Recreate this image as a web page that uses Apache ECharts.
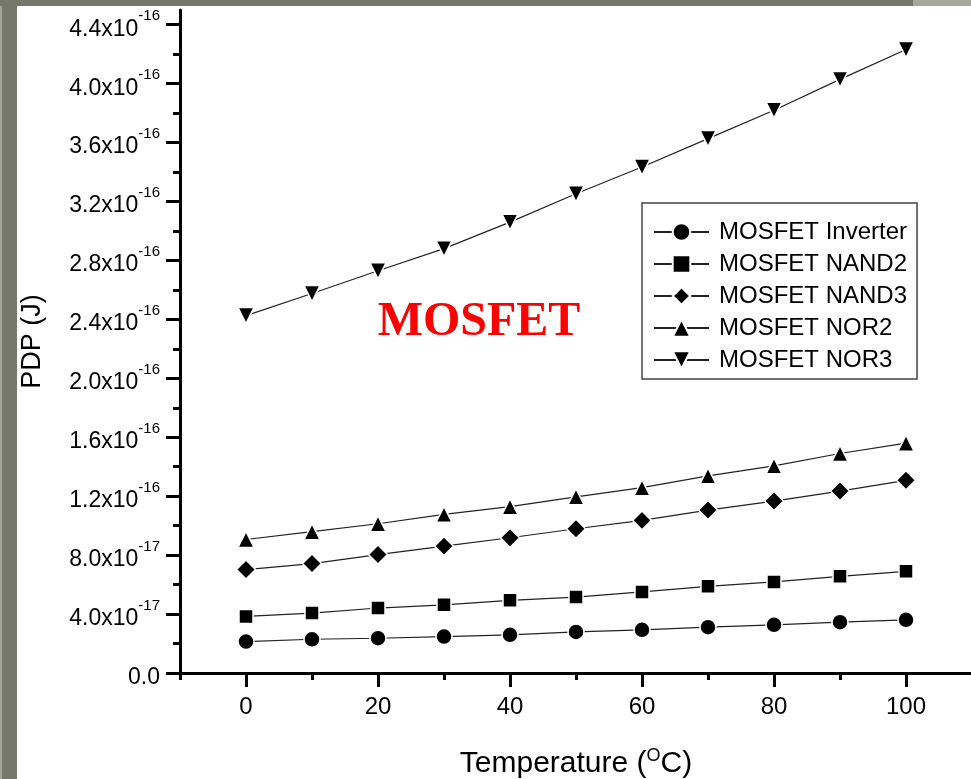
<!DOCTYPE html>
<html>
<head>
<meta charset="utf-8">
<script src="https://cdn.jsdelivr.net/npm/echarts@6/dist/echarts.min.js"></script>
<style>
  html, body { margin: 0; padding: 0; background: #fff; }
  #chart { width: 971px; height: 779px; }
</style>
</head>
<body>
<div id="chart"></div>
<script>
// temperature in deg C
const temps = [0, 10, 20, 30, 40, 50, 60, 70, 80, 90, 100];

// PDP values, in units of 1e-16 J
const pdpInverter = [0.213, 0.229, 0.236, 0.247, 0.259, 0.279, 0.293, 0.311, 0.327, 0.345, 0.361];
const pdpNand2 = [0.384, 0.407, 0.441, 0.463, 0.493, 0.515, 0.550, 0.588, 0.618, 0.656, 0.690];
const pdpNand3 = [0.702, 0.743, 0.804, 0.861, 0.918, 0.979, 1.036, 1.106, 1.167, 1.235, 1.308];
const pdpNor2 = [0.906, 0.959, 1.013, 1.077, 1.129, 1.196, 1.258, 1.338, 1.406, 1.490, 1.560];
const pdpNor3 = [2.426, 2.576, 2.730, 2.880, 3.060, 3.253, 3.434, 3.627, 3.820, 4.029, 4.232];

const seriesNames = ['MOSFET Inverter', 'MOSFET NAND2', 'MOSFET NAND3', 'MOSFET NOR2', 'MOSFET NOR3'];

// axis ticks
const yMajorTicks = [0, 0.4e-16, 0.8e-16, 1.2e-16, 1.6e-16, 2.0e-16, 2.4e-16, 2.8e-16, 3.2e-16, 3.6e-16, 4.0e-16, 4.4e-16];
const yMinorTicks = [0.2e-16, 0.6e-16, 1.0e-16, 1.4e-16, 1.8e-16, 2.2e-16, 2.6e-16, 3.0e-16, 3.4e-16, 3.8e-16, 4.2e-16];
const xMajorTicks = [0, 20, 40, 60, 80, 100];
const xMinorTicks = [-10, 10, 30, 50, 70, 90, 110];

const FONT = 'Liberation Sans, Arial, sans-serif';

const chart = echarts.init(document.getElementById('chart'));

function toPairs(vals) {
    return temps.map((t, i) => [t, vals[i] * 1e-16]);
}

function fmtPdp(v) {
    if (v === 0) return '{m|0.0}';
    const e = Math.floor(Math.log10(v) + 1e-9);
    const m = (v / Math.pow(10, e)).toFixed(1);
    return '{m|' + m + 'x10}{s|' + e + '}';
}

const markers = [
    { data: pdpInverter, symbol: 'circle', size: 16, rotate: 0 },
    { data: pdpNand2, symbol: 'rect', size: 14, rotate: 0 },
    { data: pdpNand3, symbol: 'diamond', size: 19, rotate: 0 },
    { data: pdpNor2, symbol: 'triangle', size: 16, rotate: 0 },
    { data: pdpNor3, symbol: 'triangle', size: 16, rotate: 180 }
];

const series = markers.map((m, i) => ({
    name: seriesNames[i],
    type: 'line',
    data: toPairs(m.data),
    symbol: m.symbol,
    symbolSize: m.size,
    symbolRotate: m.rotate,
    showAllSymbol: true,
    lineStyle: { color: '#222', width: 1.2 },
    itemStyle: { color: '#000', borderColor: '#fff', borderWidth: 1.5 },
    z: 3
}));

const axisLineStyle = { color: '#000', width: 3 };

const option = {
    animation: false,
    backgroundColor: '#fff',
    grid: { left: 180, right: -1, top: 10, bottom: 106, containLabel: false, outerBoundsMode: 'none' },
    xAxis: [
        {
            type: 'value',
            min: -10,
            max: 110,
            position: 'bottom',
            axisLine: { show: true, onZero: false, lineStyle: axisLineStyle },
            axisTick: { show: true, customValues: xMajorTicks, length: 14, lineStyle: { color: '#000', width: 3 } },
            axisLabel: {
                customValues: xMajorTicks,
                margin: 22,
                fontFamily: FONT,
                fontSize: 24,
                color: '#000'
            },
            splitLine: { show: false },
            name: '{t|Temperature (}{s|O}{t|C)}',
            nameLocation: 'middle',
            nameGap: 74,
            nameTextStyle: {
                rich: {
                    t: { fontFamily: FONT, fontSize: 30, color: '#000', lineHeight: 34 },
                    s: { fontFamily: FONT, fontSize: 18, color: '#000', verticalAlign: 'top', lineHeight: 34 }
                }
            }
        },
        {
            type: 'value',
            min: -10,
            max: 110,
            position: 'bottom',
            axisLine: { show: false, onZero: false },
            axisTick: { show: true, customValues: xMinorTicks, length: 7, lineStyle: { color: '#000', width: 3 } },
            axisLabel: { show: false },
            splitLine: { show: false }
        }
    ],
    yAxis: [
        {
            type: 'value',
            min: 0,
            max: 4.5e-16,
            position: 'left',
            axisLine: { show: true, onZero: false, lineStyle: axisLineStyle },
            axisTick: { show: true, customValues: yMajorTicks, length: 14, lineStyle: { color: '#000', width: 3 } },
            axisLabel: {
                customValues: yMajorTicks,
                margin: 20,
                formatter: fmtPdp,
                rich: {
                    m: { fontFamily: FONT, fontSize: 23, color: '#000', lineHeight: 32, verticalAlign: 'bottom' },
                    s: { fontFamily: FONT, fontSize: 15, color: '#000', lineHeight: 32, verticalAlign: 'top' }
                }
            },
            splitLine: { show: false },
            name: 'PDP (J)',
            nameLocation: 'middle',
            nameGap: 134,
            nameTextStyle: { fontFamily: FONT, fontSize: 27, color: '#000' }
        },
        {
            type: 'value',
            min: 0,
            max: 4.5e-16,
            position: 'left',
            axisLine: { show: false, onZero: false },
            axisTick: { show: true, customValues: yMinorTicks, length: 7, lineStyle: { color: '#000', width: 3 } },
            axisLabel: { show: false },
            splitLine: { show: false }
        }
    ],
    legend: {
        data: seriesNames,
        orient: 'vertical',
        left: 642,
        top: 203,
        padding: [17, 10, 7, 11],
        itemWidth: 55,
        itemHeight: 22,
        itemGap: 8,
        backgroundColor: '#fff',
        borderColor: '#444',
        borderWidth: 1.5,
        borderRadius: 0,
        textStyle: { fontFamily: FONT, fontSize: 24, color: '#000', padding: [0, 0, 0, 5] }
    },
    graphic: [
        { type: 'rect', left: 2, top: 0, shape: { width: 15, height: 779 }, style: { fill: '#76776b' }, z: 100 },
        { type: 'rect', left: 0, top: 0, shape: { width: 2, height: 779 }, style: { fill: '#a4a599' }, z: 100 },
        { type: 'rect', left: 0, top: 0, shape: { width: 913, height: 6 }, style: { fill: '#76776b' }, z: 100 },
        { type: 'rect', left: 913, top: 0, shape: { width: 58, height: 6 }, style: { fill: '#a6a69a' }, z: 100 },
        {
            type: 'text',
            x: 479,
            y: 323,
            style: {
                text: 'MOSFET',
                fill: '#ff0000',
                font: 'bold 48px "Liberation Serif", "Times New Roman", serif',
                textAlign: 'center',
                textVerticalAlign: 'middle'
            },
            z: 50
        }
    ],
    series: series
};

chart.setOption(option);
</script>
</body>
</html>
